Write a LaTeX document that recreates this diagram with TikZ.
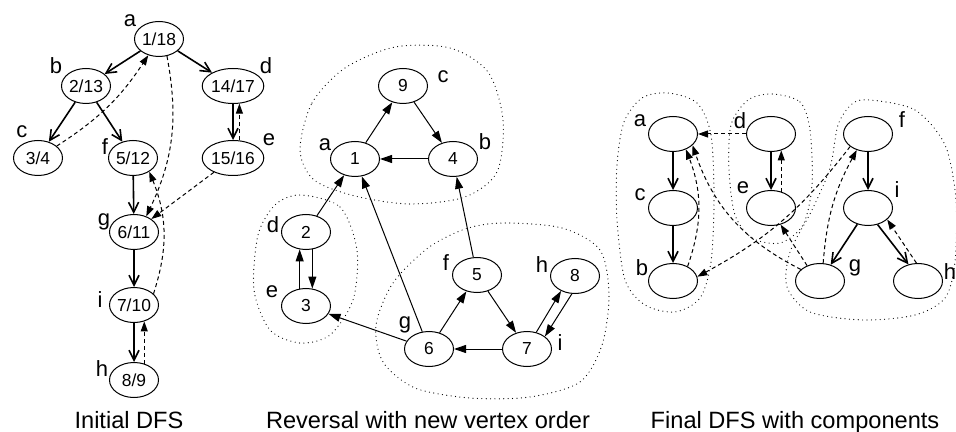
\documentclass[tikz,border=0pt]{standalone}
\usepackage{fontspec}
\setmainfont{Liberation Sans}
\usetikzlibrary{shapes.geometric,arrows.meta}
\tikzset{
  vtx/.style={ellipse, draw, line width=0.5pt, minimum width=24.5pt, minimum height=17.5pt, inner sep=0pt, font=\fontsize{8.7}{9}\selectfont},
  lbl/.style={inner sep=0pt, font=\fontsize{11}{12}\selectfont},
  captxt/.style={inner sep=0pt, anchor=base, font=\fontsize{11.8}{13}\selectfont},
  tree/.style={line width=0.8pt, -{Straight Barb[length=5pt,width=5pt]}},
  back/.style={line width=0.5pt, dash pattern=on 2pt off 1.5pt, -{Triangle[length=5pt,width=3.5pt]}},
  rev/.style={line width=0.5pt, -{Triangle[length=6pt,width=4pt]}},
  blob/.style={line width=0.6pt, line cap=round, dash pattern=on 0pt off 2.2pt}
}
\begin{document}
\begin{tikzpicture}[x=0.5pt,y=-0.5pt]
    \useasboundingbox (0,0) rectangle (956,432);
    % initial DFS
    \node [vtx] (ia) at (159,39) {1/18};
    \node [vtx] (ib) at (86,86) {2/13};
    \node [vtx] (ic) at (38,158) {3/4};
    \node [vtx] (if) at (133,158) {5/12};
    \node [vtx] (id) at (233,86) {14/17};
    \node [vtx] (ie) at (233,158) {15/16};
    \node [vtx] (ig) at (134,232) {6/11};
    \node [vtx] (ii) at (134,305) {7/10};
    \node [vtx] (ih) at (134,380) {8/9};
    \node [lbl] (ial) at (130,21) {a};
    \node [lbl] (ibl) at (56,66) {b};
    \node [lbl] (icl) at (22,132) {c};
    \node [lbl] (ifl) at (105,147) {f};
    \node [lbl] (idl) at (266,66) {d};
    \node [lbl] (iel) at (269,140) {e};
    \node [lbl] (igl) at (104,222) {g};
    \node [lbl] (iil) at (100,300) {i};
    \node [lbl] (ihl) at (102,369) {h};
    \path[tree] (ia) edge (ib);
    \path[tree] (ia) edge (id);
    \path[tree] (ib) edge (ic);
    \path[tree] (ib) edge (if);
    \path[tree] (id.south) edge (ie.north);
    \path[tree] (if) edge (ig);
    \path[tree] (ig) edge (ii);
    \path[tree] (ii.south) edge (ih.north);
    \path[back] (ie.70) edge (id.-70);
    \path[back] (ih.58) edge (ii.-58);
    \path[back] (ic) edge [bend right=12] (ia);
    \path[back] (ia.-65) edge [bend left=18] (ig.52);
    \path[back] (ii.30) edge [bend right=20] (if.-40);
    \path[back] (ie) edge (ig);
    \node [captxt] (capi) at (129,428) {Initial DFS};
    % reversal
    \draw[blob] plot [smooth cycle] coordinates {(300,150) (312,103) (345,68) (395,47) (450,48) (488,72) (503,120) (497,172) (465,197) (410,204) (355,196) (314,180)};
    \draw[blob] plot [smooth cycle] coordinates {(300,195) (340,207) (357,250) (353,300) (330,335) (300,343) (270,330) (254,290) (258,235) (275,205)};
    \draw[blob] plot [smooth cycle] coordinates {(503,223) (562,228) (600,250) (609,295) (602,345) (580,382) (530,397) (470,398) (415,388) (383,362) (376,325) (393,283) (428,248) (465,229)};
    \node [vtx] (ra) at (355,159) {1};
    \node [vtx] (rc) at (403,86) {9};
    \node [vtx] (rb) at (453,159) {4};
    \node [vtx] (rd) at (306,232) {2};
    \node [vtx] (re) at (306,306) {3};
    \node [vtx] (rg) at (429,349) {6};
    \node [vtx] (rf) at (477,275) {5};
    \node [vtx] (ri) at (527,349) {7};
    \node [vtx] (rh) at (575,276) {8};
    \node [lbl] (ral) at (325,145) {a};
    \node [lbl] (rcl) at (443,77) {c};
    \node [lbl] (rbl) at (485,142) {b};
    \node [lbl] (rdl) at (273,225) {d};
    \node [lbl] (rel) at (272,292) {e};
    \node [lbl] (rgl) at (405,325) {g};
    \node [lbl] (rfl) at (446,263) {f};
    \node [lbl] (rhl) at (542,265) {h};
    \node [lbl] (ril) at (560,343) {i};
    \path[rev] (ra) edge (rc);
    \path[rev] (rc) edge (rb);
    \path[rev] (rb) edge (ra);
    \path[rev] (rd) edge (ra);
    \path[rev] (rg) edge (ra);
    \path[rev] (rf) edge (rb);
    \path[rev] (re.110) edge (rd.250);
    \path[rev] (rd.-70) edge (re.70);
    \path[rev] (rg) edge (re);
    \path[rev] (rg) edge (rf);
    \path[rev] (rf) edge (ri);
    \path[rev] (ri) edge (rg);
    \path[rev] (ri.61) edge (rh.227);
    \path[rev] (rh.260) edge (ri.35);
    \node [captxt] (capr) at (428,428) {Reversal with new vertex order};
    % final DFS
    \draw[blob] plot [smooth cycle] coordinates {(668,93) (697,103) (711,135) (714,200) (711,262) (700,298) (675,312) (645,305) (625,280) (617,220) (617,165) (624,122) (642,98)};
    \draw[blob] plot [smooth cycle] coordinates {(772,94) (800,102) (810,130) (812,185) (803,225) (780,243) (752,238) (735,215) (729,170) (731,125) (748,100)};
    \draw[blob] plot [smooth cycle] coordinates {(870,100) (915,110) (945,145) (956,200) (955,262) (945,298) (915,315) (863,320) (810,312) (787,287) (790,252) (812,210) (830,168) (838,125) (852,104)};
    \node [vtx] (fa) at (673,134) {};
    \node [vtx] (fc) at (673,208) {};
    \node [vtx] (fb) at (673,281) {};
    \node [vtx] (fd) at (771,134) {};
    \node [vtx] (fe) at (771,208) {};
    \node [vtx] (ff) at (868,134) {};
    \node [vtx] (fi) at (868,208) {};
    \node [vtx] (fg) at (820,281) {};
    \node [vtx] (fh) at (918,281) {};
    \node [lbl] (fal) at (640,121) {a};
    \node [lbl] (fcl) at (640,195) {c};
    \node [lbl] (fbl) at (642,268) {b};
    \node [lbl] (fdl) at (740,121) {d};
    \node [lbl] (fel) at (743,188) {e};
    \node [lbl] (ffl) at (902,120) {f};
    \node [lbl] (fil) at (897,190) {i};
    \node [lbl] (fgl) at (855,268) {g};
    \node [lbl] (fhl) at (950,272) {h};
    \path[tree] (fa) edge (fc);
    \path[tree] (fc) edge (fb);
    \path[tree] (fd.south) edge (fe.north);
    \path[tree] (ff) edge (fi);
    \path[tree] (fi) edge (fg);
    \path[tree] (fi.-60) edge (fh.120);
    \path[back] (fe.58) edge (fd.-58);
    \path[back] (fh.95) edge (fi.-31);
    \path[back] (fd) edge (fa);
    \path[back] (fb.45) edge [bend right=20] (fa.-50);
    \path[back] (fg.149) edge [bend left=22] (fa.-30);
    \path[back] (fg.80) edge [bend left=12] (ff.-125);
    \path[back] (fg.130) edge (fe.-60);
    \path[back] (ff.-145) edge [bend left=12] (fb.10);
    \node [captxt] (capf) at (795,428) {Final DFS with components};
\end{tikzpicture}
\end{document}
